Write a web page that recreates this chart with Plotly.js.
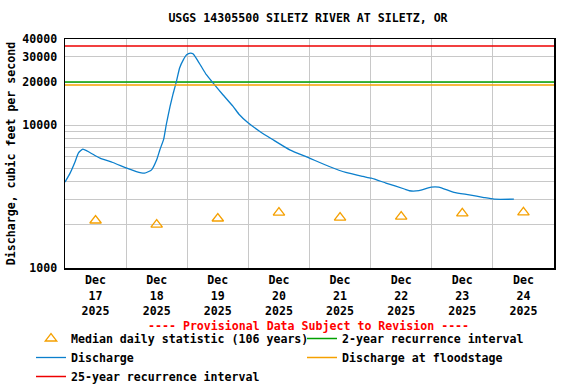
<!DOCTYPE html>
<html>
<head>
<meta charset="utf-8">
<script src="https://cdn.plot.ly/plotly-3.0.1.min.js"></script>
<style>
html,body{margin:0;padding:0;background:#fff;}
#chart{width:576px;height:384px;}
</style>
</head>
<body>
<div id="chart"></div>
<script>
// ---- Data ----
const chartTitle = 'USGS 14305500 SILETZ RIVER AT SILETZ, OR';
const yAxisTitle = 'Discharge, cubic feet per second';
const provisionalNote = '---- Provisional Data Subject to Revision ----';

const dischargeTimes = [
  '2025-12-17 00:00','2025-12-17 02:00','2025-12-17 04:00','2025-12-17 05:15','2025-12-17 07:00',
  '2025-12-17 09:45','2025-12-17 13:45','2025-12-17 18:45','2025-12-18 00:15','2025-12-18 04:00',
  '2025-12-18 07:15','2025-12-18 10:00','2025-12-18 12:00','2025-12-18 13:15','2025-12-18 14:45',
  '2025-12-18 15:45','2025-12-18 17:15','2025-12-18 18:30','2025-12-18 19:45','2025-12-18 21:00',
  '2025-12-18 22:30','2025-12-18 23:45','2025-12-19 01:15','2025-12-19 02:15','2025-12-19 03:30',
  '2025-12-19 05:30','2025-12-19 07:30','2025-12-19 10:45','2025-12-19 14:00','2025-12-19 18:00',
  '2025-12-19 20:30','2025-12-19 23:45','2025-12-20 04:30','2025-12-20 09:30','2025-12-20 16:15',
  '2025-12-21 00:00','2025-12-21 07:45','2025-12-21 14:15','2025-12-21 21:00','2025-12-22 00:15',
  '2025-12-22 06:00','2025-12-22 13:15','2025-12-22 15:15','2025-12-22 19:00','2025-12-22 23:45',
  '2025-12-23 02:45','2025-12-23 08:45','2025-12-23 14:45','2025-12-23 20:30','2025-12-24 00:30',
  '2025-12-24 08:15'
];
const dischargeValues = [
  3990, 4610, 5560, 6370, 6790,
  6430, 5870, 5470, 5000, 4730,
  4610, 4860, 5710, 6710, 7980,
  10050, 13500, 16700, 20200, 25100,
  28700, 31000, 31900, 31500, 29400,
  25700, 22500, 19100, 16300, 13500,
  11800, 10400, 9020, 7930, 6710,
  5870, 5130, 4660, 4370, 4250,
  3930, 3570, 3470, 3480, 3680,
  3680, 3380, 3250, 3110, 3030,
  3030
];

const medianDates = ['2025-12-17 12:00','2025-12-18 12:00','2025-12-19 12:00','2025-12-20 12:00',
                     '2025-12-21 12:00','2025-12-22 12:00','2025-12-23 12:00','2025-12-24 12:00'];
const medianValues = [2150, 2010, 2220, 2440, 2250, 2290, 2410, 2450];

const recurrence2yr = 20000;
const floodstageDischarge = 19100;
const recurrence25yr = 35700;

const xRange = ['2025-12-17 00:00', '2025-12-25 00:00'];
const tickDates = medianDates;
const tickMonth = ['Dec','Dec','Dec','Dec','Dec','Dec','Dec','Dec'];
const tickDay = ['17','18','19','20','21','22','23','24'];
const tickYear = ['2025','2025','2025','2025','2025','2025','2025','2025'];

const yTickVals = [1000,2000,3000,4000,5000,6000,7000,8000,9000,10000,20000,30000,40000];
const yTickText = ['1000','','','','','','','','','10000','20000','30000','40000'];
const yRange = [1000, 40000];

// ---- Styling ----
const FONT = 'DejaVu Sans Mono, monospace';
const FS = 11.6;
const GRID = '#c8c8c8';
const baseFont = {family: FONT, size: FS, color: '#000', weight: 'bold'};

const xTickText = tickMonth.map((m, i) => m + '<br>' + tickDay[i] + '<br>' + tickYear[i]);

const traces = [
  {
    name: 'Median daily statistic (106 years)',
    x: medianDates, y: medianValues, type: 'scatter', mode: 'markers',
    marker: {symbol: 'triangle-up-open', size: 10, color: '#f5a000', line: {width: 1.3, color: '#f5a000'}},
    cliponaxis: false
  },
  {
    name: '2-year recurrence interval',
    x: xRange, y: [recurrence2yr, recurrence2yr], type: 'scatter', mode: 'lines',
    line: {color: '#00a000', width: 1.5}
  },
  {
    name: 'Discharge',
    x: dischargeTimes, y: dischargeValues, type: 'scatter', mode: 'lines',
    line: {color: '#0b7fcc', width: 1.3, shape: 'spline', smoothing: 0.5}
  },
  {
    name: 'Discharge at floodstage',
    x: xRange, y: [floodstageDischarge, floodstageDischarge], type: 'scatter', mode: 'lines',
    line: {color: '#f5a000', width: 1.5}
  },
  {
    name: '25-year recurrence interval',
    x: xRange, y: [recurrence25yr, recurrence25yr], type: 'scatter', mode: 'lines',
    line: {color: '#ee0000', width: 1.5}
  }
];

const layout = {
  width: 576, height: 384,
  margin: {l: 65, r: 22, t: 39, b: 116, autoexpand: false},
  paper_bgcolor: '#fff', plot_bgcolor: '#fff',
  font: baseFont,
  title: {text: chartTitle, font: baseFont, x: 308 / 576, xanchor: 'center', y: 1 - 18 / 384, yanchor: 'middle', xref: 'container', yref: 'container'},
  showlegend: true,
  legend: {
    orientation: 'h', x: (31 - 65) / 489, xanchor: 'left', xref: 'paper',
    y: -(324 - 268) / 229, yanchor: 'top', yref: 'paper',
    font: baseFont, entrywidth: 226, entrywidthmode: 'pixels',
    traceorder: 'normal', itemwidth: 30, bgcolor: 'rgba(0,0,0,0)'
  },
  xaxis: {
    type: 'date', range: xRange, tickmode: 'array', tickvals: tickDates, ticktext: xTickText,
    ticks: '', zeroline: false, tickfont: baseFont, tickangle: 0, showgrid: false,
    showline: true, mirror: true, linecolor: '#000', linewidth: 1.5,
    minor: {dtick: 86400000, tick0: '2025-12-17 00:00', showgrid: true, gridcolor: GRID, gridwidth: 1, ticks: ''},
    ticklabelstandoff: 1
  },
  yaxis: {
    type: 'log', range: [Math.log10(yRange[0]), Math.log10(yRange[1])],
    tickmode: 'array', tickvals: yTickVals, ticktext: yTickText,
    showgrid: true, gridcolor: GRID, gridwidth: 1, zeroline: false,
    showline: true, mirror: true, linecolor: '#000', linewidth: 1.5,
    ticks: '', tickfont: baseFont, ticklabelstandoff: 4,
    title: {text: yAxisTitle, font: baseFont, standoff: 4}
  },
  annotations: [
    {text: provisionalNote, xref: 'paper', yref: 'paper', x: (308 - 65) / 489, y: -(325.5 - 268) / 229,
     xanchor: 'center', yanchor: 'middle', showarrow: false, font: Object.assign({}, baseFont, {color: '#ff0000'})}
  ]
};

Plotly.newPlot('chart', traces, layout, {staticPlot: true, displayModeBar: false});
</script>
</body>
</html>
